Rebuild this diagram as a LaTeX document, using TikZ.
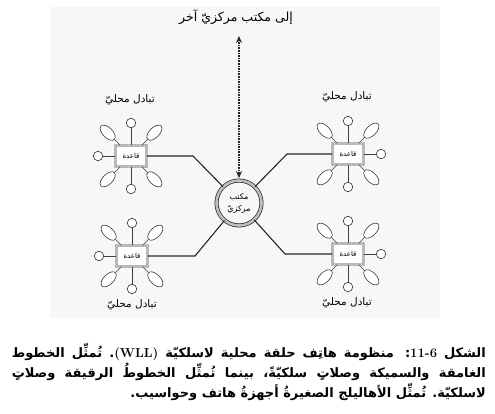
\documentclass[tikz,border=0pt]{standalone}
\usepackage{fontspec}
\newfontfamily\arabicfont[Script=Arabic]{DejaVu Sans}
\TeXXeTstate=1
\usetikzlibrary{shapes.geometric,arrows.meta,calc}
\definecolor{panel}{RGB}{246,248,246}
\newcommand{\artext}[1]{\beginR #1\endR}

\tikzset{
  basebox/.style={rectangle,draw=black!85,line width=0.6pt,double=gray!55,double distance=2.2pt,
    fill=white,minimum width=31pt,minimum height=21pt,inner sep=1pt,font=\arabicfont\fontsize{7}{8}\selectfont},
  office/.style={circle,draw=black!85,line width=0.7pt,double=gray!50,double distance=2.6pt,
    fill=white!94!gray,minimum size=45pt,inner sep=0pt,align=center,font=\arabicfont\fontsize{8}{12}\selectfont},
  phone/.style={circle,draw=black!80,line width=0.6pt,fill=white,minimum size=9.5pt,inner sep=0pt},
  handset/.style={ellipse,draw=black!80,line width=0.6pt,fill=white,minimum width=19pt,minimum height=10pt,inner sep=0pt},
  spoke/.style={draw=black!75,line width=0.6pt},
  wire/.style={draw=black!85,line width=1.1pt},
  uplink/.style={draw=black!85,line width=1.4pt,dash pattern=on 1.6pt off 1pt,{Stealth[length=7pt,width=6pt]}-{Stealth[length=7pt,width=6pt]}},
  lbl/.style={font=\arabicfont\fontsize{10.5}{12}\selectfont},
  capline/.style={inner sep=0pt,font=\arabicfont\bfseries\fontsize{13}{20}\selectfont}
}

% one local exchange: name, position, angle of the outer circle
\newcommand{\exchange}[3]{%
  \node[basebox] (#1) at (#2) {\artext{قاعدة}};
  \foreach \a in {90,270,#3} {
    \node[phone] (#1-\a) at ($(#1)+(\a:33)$) {};
    \draw[spoke] (#1) -- (#1-\a);
  }
  \foreach \a in {45,135,225,315} {
    \node[handset,rotate=\a] (#1-\a) at ($(#1)+(\a:33)$) {};
    \draw[spoke] (#1) -- (#1-\a);
  }
}

\begin{document}
\begin{tikzpicture}[x=1pt,y=1pt]
\useasboundingbox (0,0) rectangle (495,-413);
\fill[panel] (50,-7) rectangle (440,-318); % light panel

% central office and the link to the other office
\node[office] (co) at (239,-203) {\artext{مكتب}\\\artext{مركزيّ}};
\coordinate (up) at (239,-36);
\draw[uplink,shorten <=2pt] (co.north) -- (up);
\node[lbl,font=\arabicfont\fontsize{12.5}{14}\selectfont] (toplbl) at (236,-17) {\artext{إلى مكتب مركزيّ آخر}};

% local exchanges
\exchange{b1}{131,-156}{180}
\exchange{b2}{348,-154}{0}
\exchange{b3}{132,-256}{180}
\exchange{b4}{348,-254}{0}

% wired links to the central office
\coordinate (k1) at (193,-156);
\coordinate (k2) at (287,-154);
\coordinate (k3) at (195,-256);
\coordinate (k4) at (285,-254);
\draw[wire] (b1.east) -- (k1) -- (co);
\draw[wire] (b2.west) -- (k2) -- (co);
\draw[wire] (b3.east) -- (k3) -- (co);
\draw[wire] (b4.west) -- (k4) -- (co);

% labels
\node[lbl] (l1) at (130,-100) {\artext{تبادل محليّ}};
\node[lbl] (l2) at (347,-97) {\artext{تبادل محليّ}};
\node[lbl] (l3) at (132,-305) {\artext{تبادل محليّ}};
\node[lbl] (l4) at (347,-303) {\artext{تبادل محليّ}};

% caption
\node[capline,anchor=base east] (c1) at (486,-357) {\hbox to 474pt{\beginR الشكل \beginL{\rmfamily\bfseries 11-6}\endL: منظومة هاتِف حلقة محلية لاسلكيّة \beginL{\rmfamily\bfseries (WLL)}\endL. تُمثِّل الخطوط\endR}};
\node[capline,anchor=base east] (c2) at (486,-377) {\hbox to 474pt{\beginR الغامقة والسميكة وصلاتٍ سلكيّةً، بينما تُمثِّل الخطوطُ الرقيقة وصلاتٍ\endR}};
\node[capline,anchor=base east] (c3) at (486,-397) {\artext{لاسلكيّة. تُمثِّل الأهاليلج الصغيرةُ أجهزةُ هاتف وحواسيب.}};
\end{tikzpicture}
\end{document}
